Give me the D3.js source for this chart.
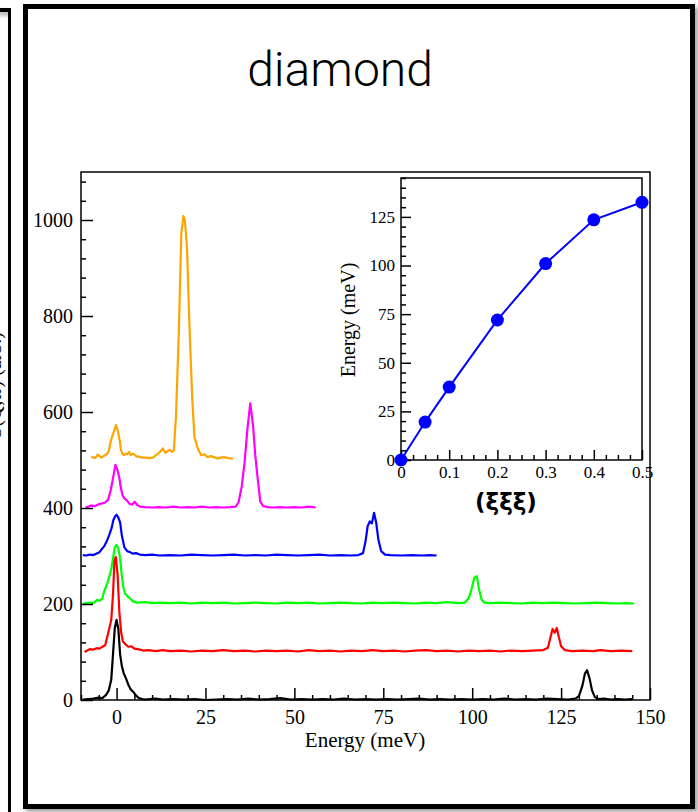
<!DOCTYPE html>
<html>
<head>
<meta charset="utf-8">
<script src="https://cdn.jsdelivr.net/npm/d3@7"></script>
<style>
  html, body { margin: 0; padding: 0; background: #fff; }
  svg { display: block; }
</style>
</head>
<body>
<svg id="chart" width="698" height="812"></svg>
<script>
// spectra: [energy (meV), intensity above the set's own baseline]
var blackSpec = [[-9.5,1],[-8,2],[-6.5,3],[-5,5],[-4,4],[-3,10],[-2.2,20],[-1.5,42],[-1,95],[-0.5,150],[0,167],[0.5,148],[1,95],[1.5,70],[2,56],[2.7,44],[3.3,32],[4,22],[4.8,16],[5.5,9],[6.3,4],[7.2,2],[8,1],[11,3],[13,1],[16,2],[19,1],[22,2],[25,0],[28,1],[31,2],[34,1],[37,3],[40,1],[43,2],[46,4],[49,1],[52,2],[55,1],[58,2],[61,1],[64,3],[67,1],[70,2],[73,1],[76,2],[79,1],[82,2],[85,3],[88,1],[91,2],[94,1],[97,2],[100,1],[103,2],[106,1],[109,3],[112,1],[115,2],[118,1],[121,3],[124,2],[127,1],[129,3],[130,8],[131,30],[131.7,55],[132.3,62],[133,45],[133.7,20],[134.5,6],[135.5,2],[137,3],[139,1],[141,2],[143,1],[145,2]];
var redSpec = [[-9,0],[-8,4],[-7.5,6],[-6.5,5],[-5.6,8],[-4.8,7],[-4.2,10],[-3.2,14],[-2.4,38],[-1.5,66],[-1,120],[-0.6,190],[-0.2,198],[0.3,160],[0.8,82],[1.3,40],[1.8,22],[2.5,16],[3.3,11],[4.2,12],[5,7],[6,6],[7.5,3],[9,4],[11,2],[13,4],[15,2],[18,3],[21,1],[24,3],[27,2],[30,4],[33,2],[36,3],[39,1],[42,3],[45,2],[48,3],[51,1],[54,4],[57,2],[60,3],[63,1],[66,3],[69,2],[72,4],[75,2],[78,3],[81,1],[84,3],[87,4],[90,2],[93,3],[96,1],[99,3],[102,2],[105,3],[108,1],[111,3],[114,2],[117,3],[120,4],[121.3,9],[122,30],[122.6,48],[123.2,40],[123.8,50],[124.4,30],[125,12],[126,4],[128,2],[131,3],[134,2],[136,4],[139,2],[142,3],[145,2]];
var greenSpec = [[-9.5,1],[-8.5,2],[-7.3,3],[-6.4,2],[-5.6,8],[-4.6,7],[-4,12],[-3.5,26],[-2.5,45],[-1.5,72],[-0.9,100],[-0.5,118],[0,123],[0.5,115],[1,95],[1.4,64],[1.9,35],[2.4,22],[3.2,15],[4,10],[4.7,5],[6,3],[8,4],[10,2],[12,3],[15,2],[18,3],[21,1],[24,3],[27,2],[30,3],[33,1],[36,2],[39,3],[42,2],[45,1],[48,3],[51,2],[54,3],[57,1],[60,2],[63,3],[66,2],[69,1],[72,3],[75,2],[78,3],[81,2],[84,1],[87,3],[90,2],[93,4],[96,2],[98,3],[99,12],[99.8,30],[100.6,55],[101.3,58],[101.9,32],[102.6,10],[103.4,3],[105,2],[108,3],[111,2],[114,1],[117,3],[120,2],[123,3],[126,2],[129,1],[132,2],[135,3],[138,2],[141,1],[143,2],[145.5,1]];
var blueSpec = [[-9.5,2],[-8.5,1],[-7.5,3],[-6.5,2],[-5.6,5],[-4.8,8],[-4.2,14],[-3.5,20],[-2.8,30],[-2,45],[-1.4,58],[-0.9,75],[-0.4,83],[0,86],[0.5,80],[1,70],[1.5,42],[2.2,18],[3,10],[3.8,8],[4.5,5],[5.5,6],[6.5,3],[8,2],[10,3],[12,1],[15,2],[18,1],[21,3],[24,2],[27,1],[30,2],[33,3],[36,1],[39,2],[42,1],[45,3],[48,2],[51,1],[54,2],[57,3],[60,1],[63,2],[66,1],[68,2],[69.3,6],[70,30],[70.6,62],[71.2,72],[71.8,68],[72.4,90],[73,70],[73.6,35],[74.4,10],[75.5,3],[77,2],[80,1],[83,2],[86,1],[88,2],[90,1]];
var magentaSpec = [[-8.7,1],[-7.8,3],[-7.2,5],[-6,4],[-5,8],[-4.3,9],[-3.3,11],[-2.4,17],[-1.8,32],[-1.3,50],[-0.8,70],[-0.3,90],[0.3,78],[0.8,62],[1.2,42],[1.7,26],[2.2,20],[2.9,16],[3.6,9],[4.4,7],[5.1,13],[5.8,6],[6.6,3],[8,2],[10,1],[12,2],[14,1],[16,3],[18,1],[20,2],[22,1],[24,3],[26,1],[28,2],[30,1],[32,2],[33.5,3],[34.3,12],[35.2,45],[36,95],[36.8,165],[37.6,218],[38.4,170],[39,110],[39.7,60],[40.4,14],[41.2,4],[42.5,2],[44,1],[46,2],[48,1],[50,2],[52,1],[54,3],[56,1]];
var orangeSpec = [[-7.1,7],[-6.4,5],[-6,4],[-5.3,11],[-4.8,8],[-4.2,5],[-3.5,9],[-2.8,12],[-2.2,18],[-1.6,40],[-1.1,52],[-0.5,65],[-0.2,73],[0.4,60],[0.9,40],[1.2,22],[1.6,14],[2,10],[2.5,13],[3,12],[3.5,17],[4,10],[4.5,13],[5,12],[5.6,7],[6.3,7],[7.2,5],[8.2,5],[9.2,4],[10.2,5],[11.1,10],[11.8,14],[12.5,19],[13,24],[13.7,15],[14.3,18],[14.9,21],[15.6,17],[16.1,20],[16.7,90],[17.5,264],[18.2,472],[18.8,508],[19.2,500],[19.8,444],[20.5,278],[21.3,125],[21.9,48],[22.8,25],[23.8,10],[24.7,12],[25.6,6],[26.5,8],[27.4,6],[28.4,3],[29.3,5],[30.2,6],[31.3,4],[32.7,3]];

var spectra = [blackSpec, redSpec, greenSpec, blueSpec, magentaSpec, orangeSpec];
var offsets = [0, 100, 200, 300, 400, 500];

// dispersion (inset)
var qPoints = [0, 0.05, 0.1, 0.2, 0.3, 0.4, 0.5];
var ePoints = [0, 19.5, 37.5, 72, 101, 123.5, 132.5];

var xTicks = [0, 25, 50, 75, 100, 125, 150];
var yTicks = [0, 200, 400, 600, 800, 1000];
var qTicks = [0, 0.1, 0.2, 0.3, 0.4, 0.5];
var eTicks = [0, 25, 50, 75, 100, 125];

var setColors = ["#000000", "#ff0000", "#00ff00", "#0000ff", "#ff00ff", "#ffa500"];
var serif = "'Liberation Serif', 'Times New Roman', serif";

var svg = d3.select("#chart");

var defs = svg.append("defs");
defs.append("filter").attr("id", "shade")
    .attr("x", "-5%").attr("y", "-5%").attr("width", "110%").attr("height", "110%")
  .append("feDropShadow")
    .attr("dx", 3).attr("dy", 3).attr("stdDeviation", 2)
    .attr("flood-color", "#888").attr("flood-opacity", 0.8);

// neighbouring panel, cut off at the left edge
svg.append("path")
    .attr("d", "M-5,10H10V830")
    .attr("fill", "none").attr("stroke", "#000").attr("stroke-width", 4)
    .attr("filter", "url(#shade)");
svg.append("text")
    .attr("transform", "translate(1,385) rotate(-90)")
    .attr("text-anchor", "middle")
    .style("font-family", serif).style("font-size", "20px")
    .text("S(Q,ω) (arb.)");

// panel frame
svg.append("rect")
    .attr("x", 25.5).attr("y", 6.5).attr("width", 667).attr("height", 800)
    .attr("fill", "#fff").attr("stroke", "#000").attr("stroke-width", 5)
    .attr("filter", "url(#shade)");

svg.append("text")
    .attr("x", 340).attr("y", 86)
    .attr("text-anchor", "middle")
    .style("font-family", "Roboto, 'Open Sans', sans-serif")
    .style("font-weight", 300)
    .style("font-size", "48px")
    .text("diamond");

// main plot
var x = d3.scaleLinear().domain([-10, 150]).range([81, 650]);
var y = d3.scaleLinear().domain([0, 1100]).range([700, 172]);

var plot = svg.append("g");

var line = d3.line();
spectra.slice().reverse().forEach(function(s, k) {
  var i = spectra.length - 1 - k;
  plot.append("path")
      .datum(s)
      .attr("fill", "none")
      .attr("stroke", setColors[i])
      .attr("stroke-width", 2.2)
      .attr("stroke-linejoin", "round")
      .attr("d", line.x(d => x(d[0])).y(d => y(d[1] + offsets[i])));
});

plot.append("rect")
    .attr("x", x(-10)).attr("y", y(1100))
    .attr("width", x(150) - x(-10)).attr("height", y(0) - y(1100))
    .attr("fill", "none").attr("stroke", "#000").attr("stroke-width", 1.5);

var xMinor = d3.range(-10, 151, 5).filter(v => xTicks.indexOf(v) < 0);
var yMinor = d3.range(0, 1101, 40).filter(v => yTicks.indexOf(v) < 0);

function styleAxis(g, size) {
  g.select(".domain").remove();
  g.selectAll(".tick line").attr("stroke", "#000").attr("stroke-width", 1.5);
  g.selectAll(".tick text").style("font-family", serif).style("font-size", size).attr("fill", "#000");
}

plot.append("g").attr("transform", "translate(0," + y(0) + ")")
    .call(d3.axisBottom(x).tickValues(xMinor).tickSize(-5).tickFormat(""))
    .call(styleAxis, "20px");
plot.append("g").attr("transform", "translate(0," + y(0) + ")")
    .call(d3.axisBottom(x).tickValues(xTicks).tickSize(-12).tickPadding(10).tickFormat(d3.format("d")))
    .call(styleAxis, "20px");
plot.append("g").attr("transform", "translate(" + x(-10) + ",0)")
    .call(d3.axisLeft(y).tickValues(yMinor).tickSize(-5).tickFormat(""))
    .call(styleAxis, "20px");
plot.append("g").attr("transform", "translate(" + x(-10) + ",0)")
    .call(d3.axisLeft(y).tickValues(yTicks).tickSize(-12).tickPadding(8).tickFormat(d3.format("d")))
    .call(styleAxis, "20px");

plot.append("text")
    .attr("x", 365).attr("y", 747)
    .attr("text-anchor", "middle")
    .style("font-family", serif).style("font-size", "21px")
    .text("Energy (meV)");

// inset: dispersion
var xi = d3.scaleLinear().domain([0, 0.5]).range([401, 642]);
var yi = d3.scaleLinear().domain([0, 145]).range([460, 178]);

var inset = svg.append("g");

inset.append("rect")
    .attr("x", xi(0)).attr("y", yi(145))
    .attr("width", xi(0.5) - xi(0)).attr("height", yi(0) - yi(145))
    .attr("fill", "#fff").attr("stroke", "#000").attr("stroke-width", 1.5);

var qMinor = d3.range(0, 0.5001, 0.025).map(v => +v.toFixed(3)).filter(v => qTicks.indexOf(v) < 0);
var eMinor = d3.range(0, 146, 5).filter(v => eTicks.indexOf(v) < 0);

inset.append("g").attr("transform", "translate(0," + yi(0) + ")")
    .call(d3.axisBottom(xi).tickValues(qMinor).tickSize(-5).tickFormat(""))
    .call(styleAxis, "16px");
inset.append("g").attr("transform", "translate(0," + yi(0) + ")")
    .call(d3.axisBottom(xi).tickValues(qTicks).tickSize(-10).tickPadding(6).tickFormat(d => d === 0 ? "0" : d3.format(".1f")(d)))
    .call(styleAxis, "17px");
inset.append("g").attr("transform", "translate(" + xi(0) + ",0)")
    .call(d3.axisLeft(yi).tickValues(eMinor).tickSize(-5).tickFormat(""))
    .call(styleAxis, "16px");
inset.append("g").attr("transform", "translate(" + xi(0) + ",0)")
    .call(d3.axisLeft(yi).tickValues(eTicks).tickSize(-10).tickPadding(6).tickFormat(d3.format("d")))
    .call(styleAxis, "17px");

var disp = qPoints.map((q, i) => [q, ePoints[i]]);

inset.append("path")
    .datum(disp)
    .attr("fill", "none").attr("stroke", "#0000ff").attr("stroke-width", 2)
    .attr("d", d3.line().x(d => xi(d[0])).y(d => yi(d[1])));

inset.selectAll("circle").data(disp).enter().append("circle")
    .attr("cx", d => xi(d[0])).attr("cy", d => yi(d[1]))
    .attr("r", 6.5).attr("fill", "#0000ff");

inset.append("text")
    .attr("transform", "translate(355," + yi(72) + ") rotate(-90)")
    .attr("text-anchor", "middle")
    .style("font-family", serif).style("font-size", "20px")
    .text("Energy (meV)");

inset.append("text")
    .attr("x", 506).attr("y", 510)
    .attr("text-anchor", "middle")
    .style("font-family", "'DejaVu Sans', 'Open Sans', sans-serif")
    .style("font-weight", "bold").style("font-size", "23px")
    .text("(ξξξ)");
</script>
</body>
</html>
